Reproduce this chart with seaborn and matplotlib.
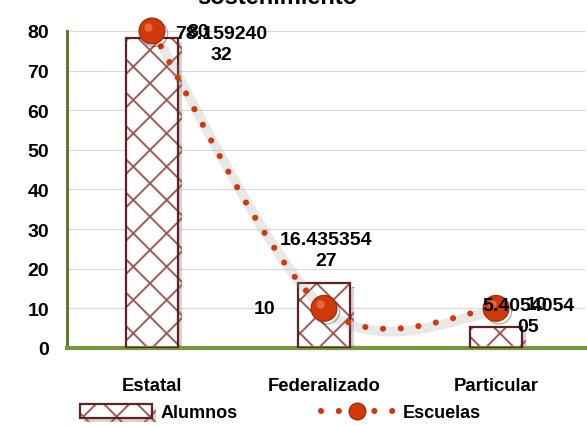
import numpy as np
import pandas as pd
import matplotlib
matplotlib.use("Agg")
import matplotlib.pyplot as plt
import matplotlib.patheffects as pe
import matplotlib.transforms as mtransforms
from matplotlib.path import Path
from matplotlib.patches import PathPatch
from matplotlib.lines import Line2D
from matplotlib.legend_handler import HandlerTuple
import seaborn as sns

# datos
categorias = ["Estatal", "Federalizado", "Particular"]
alumnos = [78.15924032, 16.43535427, 5.405405405]
escuelas = [80, 10, 10]
etiq_alumnos = ["78.159240\n32", "16.435354\n27", "5.4054054\n05"]
etiq_escuelas = ["80", "10", "10"]
yticks = [0, 10, 20, 30, 40, 50, 60, 70, 80]
titulo = "sostenimiento"

ROJO = "#d0390b"
GRANATE = "#5e2222"
TRAMA = "#a05a5a"

sns.set_style("white")
plt.rcParams["font.family"] = ["Liberation Sans", "DejaVu Sans"]
plt.rcParams["font.weight"] = "bold"
plt.rcParams["text.color"] = "black"
plt.rcParams["xtick.color"] = "black"
plt.rcParams["ytick.color"] = "black"
plt.rcParams["hatch.linewidth"] = 1.4

fig = plt.figure(figsize=(5.87, 4.27), dpi=100)
ax = fig.add_axes([0.1141, 0.1827, 0.8825, 0.7424])

df = pd.DataFrame({"cat": categorias, "alumnos": alumnos})

# barras: relleno con trama y luego el contorno
sns.barplot(data=df, x="cat", y="alumnos", color="white", edgecolor=TRAMA,
            linewidth=0, hatch="x", width=0.3, saturation=1, ax=ax, zorder=2)
n_bar = len(ax.patches)
for p in ax.patches:
    p.set_path_effects([pe.SimplePatchShadow(offset=(3, -3), shadow_rgbFace="#888888", alpha=0.35),
                        pe.Normal()])
sns.barplot(data=df, x="cat", y="alumnos", color=GRANATE, fill=False,
            linewidth=1.6, width=0.3, saturation=1, ax=ax, zorder=3)
barra_hatch = ax.patches[0]
barra_borde = ax.patches[n_bar]

xs = np.arange(len(categorias))


def curva_suave(x, y):
    pts = np.column_stack([x, y]).astype(float)
    n = len(pts)
    verts = [pts[0]]
    codes = [Path.MOVETO]
    for i in range(n - 1):
        p0 = pts[i - 1] if i > 0 else pts[i]
        p1, p2 = pts[i], pts[i + 1]
        p3 = pts[i + 2] if i + 2 < n else pts[i + 1]
        verts += [p1 + (p2 - p0) / 6, p2 - (p3 - p1) / 6, p2]
        codes += [Path.CURVE4] * 3
    return Path(verts, codes)


ruta = curva_suave(xs, escuelas)
sombra_tr = ax.transData + mtransforms.ScaledTranslation(2 / 72, -2 / 72, fig.dpi_scale_trans)
ax.add_patch(PathPatch(ruta, fill=False, edgecolor="#9a9a9a", lw=7, alpha=0.22,
                       transform=sombra_tr, zorder=4, clip_on=False))
linea = PathPatch(ruta, fill=False, edgecolor=ROJO, lw=4.4, linestyle=(0, (0.01, 2.9)),
                  capstyle="round", zorder=5, clip_on=False)
ax.add_patch(linea)

ax.plot(xs, escuelas, ls="none", marker="o", ms=18.5, mfc=ROJO, mec="#a82c07", mew=1,
        clip_on=False, zorder=6,
        path_effects=[pe.SimpleLineShadow(offset=(2, -2), alpha=0.3), pe.Normal()])
brillo_tr = ax.transData + mtransforms.ScaledTranslation(-3 / 72, 3 / 72, fig.dpi_scale_trans)
ax.plot(xs, escuelas, ls="none", marker="o", ms=6, mfc="#f08a5c", mec="none", alpha=0.6,
        transform=brillo_tr, clip_on=False, zorder=7)

# etiquetas de datos
off_alumnos = [(69, -6), (2, 33), (32, 11)]
for i, (v, t) in enumerate(zip(alumnos, etiq_alumnos)):
    ax.annotate(t, (xs[i], v), xytext=off_alumnos[i], textcoords="offset pixels",
                ha="center", va="center", fontsize=14, fontweight="bold",
                linespacing=1.3, zorder=8, annotation_clip=False)
off_escuelas = [(46, -1), (-59, 0), (41, 4)]
for i, (v, t) in enumerate(zip(escuelas, etiq_escuelas)):
    ax.annotate(t, (xs[i], v), xytext=off_escuelas[i], textcoords="offset pixels",
                ha="center", va="center", fontsize=14, fontweight="bold",
                zorder=8, annotation_clip=False)

# ejes
ax.set_xlim(-0.494, 2.517)
ax.set_ylim(0, 80)
ax.set_yticks(yticks)
ax.set_xlabel("")
ax.set_ylabel("")
ax.yaxis.grid(True, color="#d9d9d9", lw=0.8)
ax.set_axisbelow(True)
for lado in ["top", "right"]:
    ax.spines[lado].set_visible(False)
ax.spines["left"].set_color("#5f7a2e")
ax.spines["left"].set_linewidth(2.2)
ax.spines["bottom"].set_color("#77933c")
ax.spines["bottom"].set_linewidth(3)
ax.tick_params(axis="y", length=0, pad=13, labelsize=14)
ax.tick_params(axis="x", length=0, pad=21, labelsize=13.3)
for lab in ax.get_xticklabels() + ax.get_yticklabels():
    lab.set_fontweight("bold")

fig.text(277 / 587, 1 - 4 / 427, titulo, ha="center", va="baseline",
         fontsize=17, fontweight="bold")

# leyenda
h_esc = Line2D([], [], color=ROJO, lw=4.4, linestyle=(0, (0.01, 2.9)), dash_capstyle="round",
               marker="o", ms=12, mfc=ROJO, mec="#a82c07")
leg = fig.legend([(barra_hatch, barra_borde), h_esc], ["Alumnos", "Escuelas"],
                 handler_map={tuple: HandlerTuple(ndivide=1)},
                 loc="center", bbox_to_anchor=(0.477, 0.031), ncol=2, frameon=False,
                 prop={"weight": "bold", "size": 13}, handlelength=4.0, handleheight=0.75,
                 handletextpad=0.5, columnspacing=4.6, numpoints=1)

fig.savefig("out.png", dpi=100)
